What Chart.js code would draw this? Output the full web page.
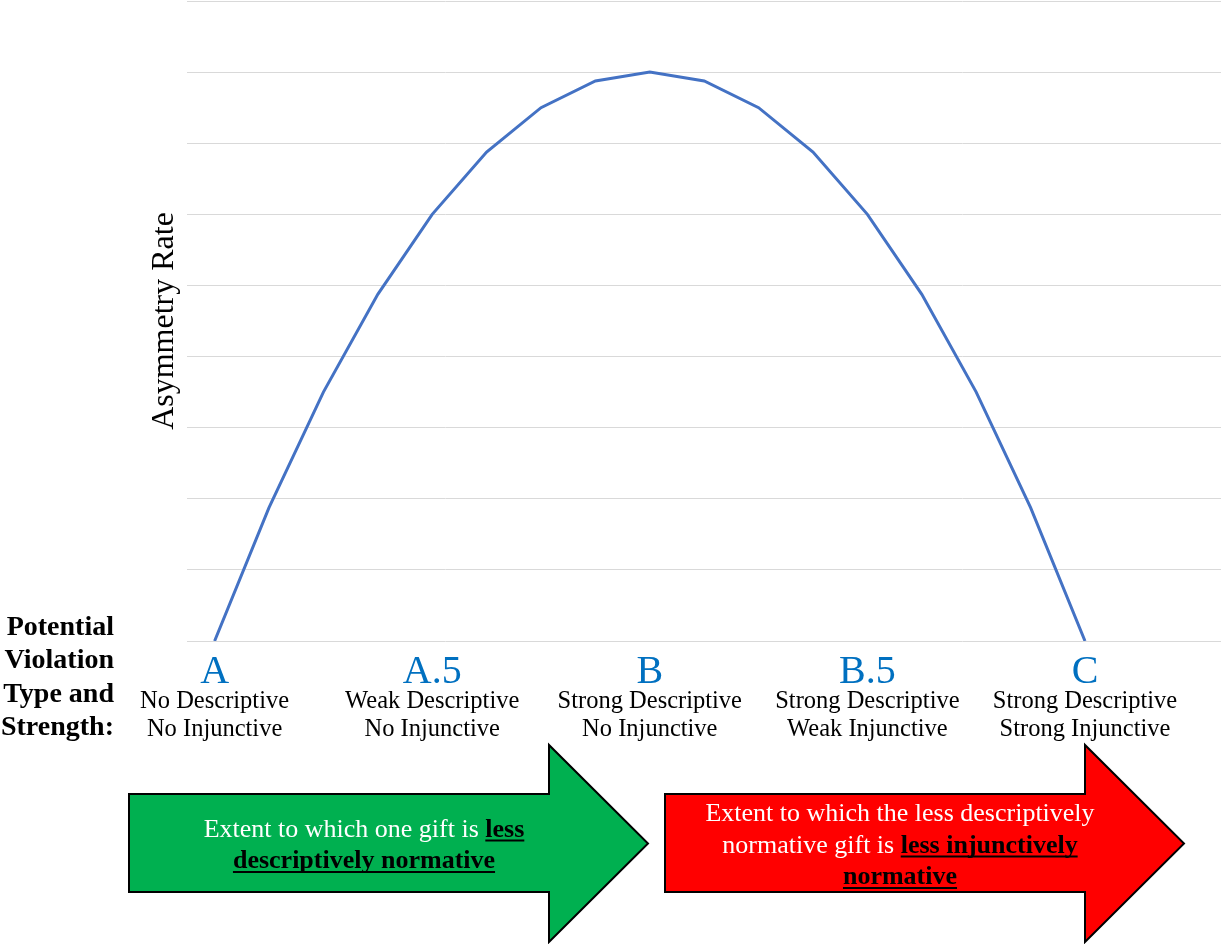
<!DOCTYPE html>
<html>
<head>
<meta charset="utf-8">
<title>Asymmetry Rate</title>
<script src="https://cdn.jsdelivr.net/npm/chart.js@4.4.1/dist/chart.umd.min.js"></script>
<style>
    html, body { margin: 0; padding: 0; background: #fff; }
    #wrap { position: relative; width: 1221px; height: 944px; }
</style>
</head>
<body>
<div id="wrap"><canvas id="asymmetry-chart"></canvas></div>
<script>
// Categories along the x axis (the last two are empty slots, as in the original)
const categories = ['A', '', '', '', 'A.5', '', '', '', 'B', '', '', '', 'B.5', '', '', '', 'C', '', ''];

// Asymmetry rate
const asymmetryRate = [0, 1.875, 3.5, 4.875, 6, 6.875, 7.5, 7.875, 8, 7.875, 7.5, 6.875, 6, 4.875, 3.5, 1.875, 0];

// y axis gridlines 0..9
const yTicks = [0, 1, 2, 3, 4, 5, 6, 7, 8, 9];

// Level descriptions under each lettered category
const levelIndex = [0, 4, 8, 12, 16];
const levelDescriptive = ['No Descriptive', 'Weak Descriptive', 'Strong Descriptive', 'Strong Descriptive', 'Strong Descriptive'];
const levelInjunctive = ['No Injunctive', 'No Injunctive', 'No Injunctive', 'Weak Injunctive', 'Strong Injunctive'];

const rowTitle = ['Potential', 'Violation', 'Type and', 'Strength:'];

const SERIF = '"Liberation Serif", "Times New Roman", serif';

// Draws one line made of runs of text, centred on cx
function drawRuns(ctx, runs, cx, baseline, size) {
    let widths = runs.map(function(r) {
        ctx.font = (r.bold ? 'bold ' : '') + size + 'px ' + SERIF;
        return ctx.measureText(r.text).width;
    });
    let total = widths.reduce(function(a, b) { return a + b; }, 0);
    let x = cx - total / 2;
    ctx.textAlign = 'left';
    ctx.textBaseline = 'alphabetic';
    runs.forEach(function(r, i) {
        ctx.font = (r.bold ? 'bold ' : '') + size + 'px ' + SERIF;
        ctx.fillStyle = r.bold ? '#000' : '#fff';
        ctx.fillText(r.text, x, baseline);
        if (r.bold) {
            ctx.fillRect(x, baseline + 3, widths[i], 2);
        }
        x += widths[i];
    });
}

function drawArrow(ctx, a) {
    ctx.beginPath();
    ctx.moveTo(a.left, a.bodyTop);
    ctx.lineTo(a.headBase, a.bodyTop);
    ctx.lineTo(a.headBase, a.headTop);
    ctx.lineTo(a.tip, (a.headTop + a.headBottom) / 2);
    ctx.lineTo(a.headBase, a.headBottom);
    ctx.lineTo(a.headBase, a.bodyBottom);
    ctx.lineTo(a.left, a.bodyBottom);
    ctx.closePath();
    ctx.fillStyle = a.color;
    ctx.fill();
    ctx.lineWidth = 2;
    ctx.strokeStyle = '#000';
    ctx.lineJoin = 'miter';
    ctx.stroke();
}

const labelsPlugin = {
    id: 'levelLabels',
    afterDraw: function(chart) {
        const ctx = chart.ctx;
        const xScale = chart.scales.x;
        ctx.save();

        // Lettered levels and their descriptions
        levelIndex.forEach(function(idx, i) {
            const px = xScale.getPixelForValue(idx);
            ctx.textAlign = 'center';
            ctx.textBaseline = 'alphabetic';
            ctx.fillStyle = '#0070C0';
            ctx.font = '40px ' + SERIF;
            ctx.fillText(categories[idx], px, 683);
            ctx.fillStyle = '#000';
            ctx.font = '24.5px ' + SERIF;
            ctx.fillText(levelDescriptive[i], px, 707.5);
            ctx.fillText(levelInjunctive[i], px, 736);
        });

        // Row title on the left
        ctx.textAlign = 'right';
        ctx.fillStyle = '#000';
        ctx.font = 'bold 28px ' + SERIF;
        rowTitle.forEach(function(t, i) {
            ctx.fillText(t, 114, 635 + i * 33.4);
        });

        // Arrows
        drawArrow(ctx, { left: 129, headBase: 549, tip: 648, bodyTop: 794, bodyBottom: 892, headTop: 745, headBottom: 942, color: '#00B050' });
        drawArrow(ctx, { left: 665, headBase: 1085, tip: 1184, bodyTop: 794, bodyBottom: 892, headTop: 745, headBottom: 942, color: '#FF0000' });

        drawRuns(ctx, [{ text: 'Extent to which one gift is ' }, { text: 'less', bold: true }], 364, 836.5, 26);
        drawRuns(ctx, [{ text: 'descriptively normative', bold: true }], 364, 868, 26);

        drawRuns(ctx, [{ text: 'Extent to which the less descriptively' }], 900, 821, 26);
        drawRuns(ctx, [{ text: 'normative gift is ' }, { text: 'less injunctively', bold: true }], 900, 852.5, 26);
        drawRuns(ctx, [{ text: 'normative', bold: true }], 900, 884, 26);

        ctx.restore();
    }
};

const chart = new Chart(document.getElementById('asymmetry-chart'), {
    type: 'line',
    data: {
        labels: categories,
        datasets: [{
            label: 'Asymmetry Rate',
            data: asymmetryRate,
            borderColor: '#4472C4',
            borderWidth: 3,
            pointRadius: 0,
            tension: 0,
            fill: false
        }]
    },
    options: {
        responsive: true,
        maintainAspectRatio: false,
        animation: false,
        layout: {
            padding: { left: 141, right: 0, top: 1, bottom: 303 }
        },
        plugins: {
            legend: { display: false },
            tooltip: { enabled: false }
        },
        scales: {
            x: {
                type: 'category',
                offset: true,
                display: false
            },
            y: {
                min: yTicks[0],
                max: yTicks[yTicks.length - 1],
                afterBuildTicks: function(scale) {
                    scale.ticks = yTicks.map(function(v) { return { value: v }; });
                },
                border: { display: false },
                grid: { color: '#d9d9d9', lineWidth: 1, drawTicks: false },
                ticks: { display: false },
                title: {
                    display: true,
                    text: 'Asymmetry Rate',
                    color: '#000',
                    font: { family: SERIF, size: 32, weight: 'normal' },
                    padding: { top: 4, bottom: 4 }
                }
            }
        }
    },
    plugins: [labelsPlugin]
});
</script>
</body>
</html>
